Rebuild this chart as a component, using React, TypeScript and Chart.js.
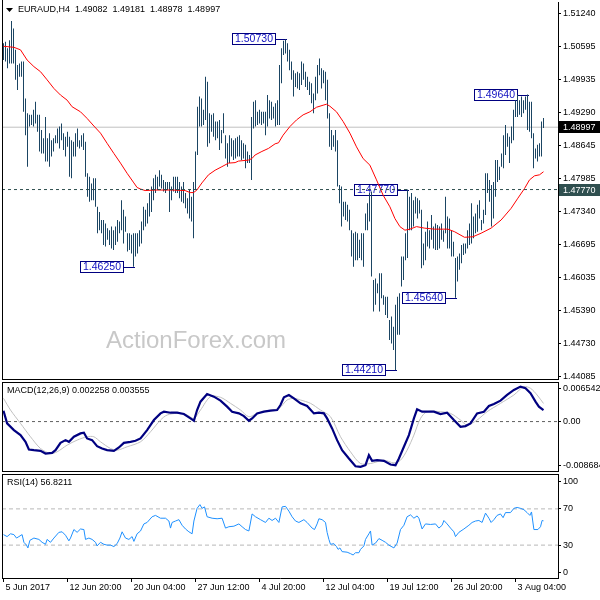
import React, { useEffect, useRef } from "react";
import { Chart, registerables } from "chart.js";
Chart.register(...registerables);

// ---------------- data ----------------
const symbolTitle = "EURAUD,H4";
const lastOHLC = [1.49082, 1.49181, 1.48978, 1.48997];
const watermark = "ActionForex.com";

const highs = [
  1.5065, 1.5068, 1.5055, 1.5071, 1.5109, 1.5094, 1.5052, 1.5022, 1.5025, 1.5029,
  1.5029, 1.4956, 1.4927, 1.4924, 1.4924, 1.4934, 1.495, 1.4924, 1.4924, 1.4894,
  1.4878, 1.492, 1.4878, 1.4888, 1.4874, 1.4878, 1.4884, 1.4897, 1.4901, 1.4907,
  1.4888, 1.4881, 1.4891, 1.4881, 1.4874, 1.4871, 1.4888, 1.4897, 1.4874, 1.4884,
  1.4888, 1.4871, 1.4809, 1.4802, 1.4789, 1.4799, 1.4799, 1.4743, 1.4733, 1.4717,
  1.4717, 1.471, 1.4701, 1.4697, 1.4704, 1.4697, 1.4704, 1.4717, 1.4714, 1.4756,
  1.4737, 1.4724, 1.4691, 1.4691, 1.4688, 1.4691, 1.4691, 1.4691, 1.4697, 1.4714,
  1.4743, 1.4737, 1.475, 1.477, 1.4783, 1.4799, 1.4806, 1.4802, 1.4815, 1.4806,
  1.4796, 1.4792, 1.4792, 1.4792, 1.4783, 1.4802, 1.4802, 1.4802, 1.4792, 1.4783,
  1.4792, 1.477, 1.476, 1.4776, 1.4763, 1.4792, 1.4852, 1.494, 1.496, 1.4956,
  1.4934, 1.4999, 1.4989, 1.4927, 1.4924, 1.4927, 1.4911, 1.4911, 1.4914, 1.4894,
  1.4927, 1.4884, 1.4868, 1.4884, 1.4878, 1.4874, 1.4878, 1.4881, 1.4884, 1.4874,
  1.4868, 1.4865, 1.4852, 1.4845, 1.492, 1.495, 1.4953, 1.493, 1.4934, 1.493,
  1.493, 1.493, 1.4963, 1.4953, 1.495, 1.494, 1.4947, 1.4953, 1.5022, 1.5055,
  1.507, 1.5073, 1.5065, 1.5052, 1.5029, 1.5012, 1.5006, 1.5009, 1.5006, 1.5029,
  1.5025, 1.5009, 1.4999, 1.4989, 1.4986, 1.4966, 1.4999, 1.5022, 1.5035, 1.5016,
  1.5012, 1.5009, 1.4993, 1.4927, 1.4894, 1.4884, 1.4894, 1.4874, 1.4786, 1.4783,
  1.4753, 1.4753, 1.4747, 1.4737, 1.4697, 1.4691, 1.4694, 1.4691, 1.4678, 1.4691,
  1.4691, 1.473, 1.475, 1.477, 1.4773, 1.4599, 1.4602, 1.4592, 1.4612, 1.4612,
  1.4569, 1.4566, 1.4566, 1.452, 1.4527, 1.4507, 1.455, 1.4566, 1.4573, 1.4645,
  1.4645, 1.4691, 1.4777, 1.4763, 1.477, 1.4756, 1.4763, 1.476, 1.4756, 1.4737,
  1.4671, 1.4694, 1.4714, 1.4697, 1.4727, 1.4704, 1.471, 1.4707, 1.4704, 1.471,
  1.4697, 1.4763, 1.4724, 1.472, 1.4697, 1.4674, 1.4642, 1.4645, 1.4651, 1.4668,
  1.4671, 1.4671, 1.4697, 1.471, 1.475, 1.4724, 1.473, 1.4747, 1.4756, 1.4717,
  1.4737, 1.4809, 1.4809, 1.4796, 1.4786, 1.4792, 1.4835, 1.4835, 1.4822, 1.4848,
  1.4884, 1.4904, 1.4888, 1.4881, 1.4901, 1.4934, 1.4953, 1.4963, 1.4953, 1.496,
  1.4953, 1.496, 1.4964, 1.495, 1.495, 1.4888, 1.4858, 1.4865, 1.4868, 1.4911, 1.4918,
];
const lows = [
  1.5032, 1.5029, 1.5016, 1.5025, 1.5025, 1.5025, 1.4993, 1.4973, 1.4999, 1.4999,
  1.493, 1.4884, 1.4822, 1.4901, 1.4904, 1.4901, 1.4907, 1.4891, 1.4852, 1.4848,
  1.4848, 1.4832, 1.4832, 1.4822, 1.4842, 1.4852, 1.4868, 1.4868, 1.4858, 1.4874,
  1.4855, 1.4842, 1.4861, 1.4802, 1.4799, 1.4842, 1.4842, 1.4861, 1.4858, 1.4861,
  1.4855, 1.4802, 1.4763, 1.4753, 1.4756, 1.4756, 1.4743, 1.4691, 1.4697, 1.4691,
  1.4668, 1.4665, 1.4678, 1.4668, 1.4661, 1.4658, 1.4668, 1.4674, 1.4691, 1.4697,
  1.4671, 1.4694, 1.4655, 1.4658, 1.4651, 1.4625, 1.4645, 1.4651, 1.4665, 1.4671,
  1.4697, 1.4704, 1.471, 1.4724, 1.4733, 1.4756, 1.477, 1.4776, 1.4783, 1.4779,
  1.4773, 1.477, 1.4776, 1.4733, 1.4756, 1.4773, 1.477, 1.477, 1.476, 1.4753,
  1.475, 1.474, 1.473, 1.472, 1.4714, 1.4681, 1.4776, 1.4845, 1.4901, 1.4901,
  1.4904, 1.4914, 1.4861, 1.4868, 1.4891, 1.4881, 1.4874, 1.4878, 1.4855, 1.4868,
  1.4888, 1.4838, 1.4822, 1.4829, 1.4842, 1.4835, 1.4838, 1.4842, 1.4842, 1.4835,
  1.4838, 1.4819, 1.4829, 1.4829, 1.4796, 1.4897, 1.4901, 1.4904, 1.4907, 1.4904,
  1.4907, 1.4884, 1.4901, 1.4917, 1.4914, 1.4917, 1.4901, 1.4904, 1.4904, 1.4986,
  1.5042, 1.5045, 1.5029, 1.5012, 1.4993, 1.496, 1.4979, 1.4976, 1.4973, 1.4983,
  1.4993, 1.4979, 1.4973, 1.4963, 1.4947, 1.4927, 1.4953, 1.4966, 1.5002, 1.4976,
  1.4986, 1.4953, 1.4917, 1.4861, 1.4855, 1.4861, 1.4852, 1.4783, 1.475, 1.4704,
  1.4724, 1.4717, 1.4714, 1.4697, 1.4645, 1.4625, 1.4638, 1.4638, 1.4642, 1.4638,
  1.4625, 1.4697, 1.4697, 1.4714, 1.4606, 1.4537, 1.455, 1.4573, 1.4537, 1.4563,
  1.455, 1.453, 1.4524, 1.4481, 1.4474, 1.4461, 1.4421, 1.4491, 1.4491, 1.4586,
  1.4599, 1.4638, 1.4642, 1.4697, 1.4697, 1.4704, 1.473, 1.472, 1.473, 1.4622,
  1.4628, 1.4638, 1.4665, 1.4661, 1.4678, 1.4661, 1.4658, 1.4658, 1.4661, 1.4678,
  1.4674, 1.4691, 1.4661, 1.4661, 1.4645, 1.4645, 1.4564, 1.4596, 1.4619, 1.4632,
  1.4648, 1.4651, 1.4661, 1.4668, 1.4671, 1.4681, 1.4691, 1.4694, 1.472, 1.4697,
  1.471, 1.4727, 1.477, 1.4753, 1.4704, 1.472, 1.4763, 1.4792, 1.4796, 1.4822,
  1.4819, 1.4845, 1.4861, 1.4829, 1.4868, 1.4874, 1.492, 1.492, 1.4924, 1.492,
  1.4927, 1.4934, 1.4894, 1.4891, 1.4878, 1.4819, 1.4838, 1.4832, 1.4842, 1.4842, 1.4898,
];

const maIdx = [
  0, 5.2, 8.5, 11.8, 15.2, 18.5, 21.8, 25.2, 28.5, 31.8,
  34.3, 38.5, 41.8, 45.2, 48.5, 51.8, 55.2, 58.5, 61.8, 65.2,
  66.8, 68.5, 70.8, 75.8, 84.2, 90.8, 93.3, 95, 96.7, 99.2,
  102.5, 105.8, 109.2, 112.5, 115.8, 117.5, 122.5, 124.2, 125.8, 129.2,
  132.5, 135.8, 137.5, 139.8, 143.2, 146.5, 149.8, 153.2, 156.5, 159.8,
  161.5, 163.2, 166.5, 169.8, 173.2, 176.5, 179.8, 183.2, 186.5, 189.8,
  193.2, 195.7, 198.2, 200.7, 203.2, 206.5, 210.5, 215.5, 222.2, 225.5,
  230.5, 234.7, 238.8, 243.8, 248.8, 253.8, 257.2, 260.5, 263, 265.5,
  268, 270,
];
const maVal = [
  1.5059, 1.5057, 1.5052, 1.5032, 1.5019, 1.5009, 1.4993, 1.4976, 1.4963, 1.4953,
  1.494, 1.493, 1.4917, 1.4902, 1.4888, 1.4868, 1.4848, 1.4829, 1.4809, 1.479,
  1.4781, 1.4778, 1.4775, 1.4776, 1.4776, 1.4775, 1.4771, 1.4771, 1.4776, 1.479,
  1.4806, 1.4815, 1.4822, 1.4829, 1.483, 1.4833, 1.4835, 1.4838, 1.4845, 1.4852,
  1.4858, 1.4867, 1.4869, 1.4884, 1.4901, 1.4914, 1.4924, 1.493, 1.4939, 1.4943,
  1.4945, 1.4941, 1.493, 1.4911, 1.4888, 1.4861, 1.4838, 1.4825, 1.4796, 1.4766,
  1.4743, 1.472, 1.4704, 1.4697, 1.4699, 1.4704, 1.4701, 1.4699, 1.4699, 1.4694,
  1.4683, 1.4684, 1.4691, 1.4701, 1.4717, 1.474, 1.476, 1.4779, 1.4796, 1.4804,
  1.4806, 1.4812,
];

const priceTicks = [1.5124, 1.50595, 1.49935, 1.4929, 1.48645, 1.47985, 1.4734, 1.46695, 1.46035, 1.4539, 1.4473, 1.44085];
const priceMin = 1.4404;
const priceMax = 1.51462;
const currentPrice = 1.48997;
const levelPrice = 1.4777;

const noteIdx = [141, 65, 202, 196, 226, 262];
const notePrice = [1.5073, 1.4625, 1.4777, 1.4421, 1.4564, 1.4964];

const macdTitle = "MACD(12,26,9) 0.002258 0.003555";
const macdIdx = [
  0, 1.8, 5.2, 8.5, 11, 12.7, 15.2, 18.5, 21, 24.3,
  26, 28.5, 31, 32.7, 35.2, 38.5, 40.2, 41.8, 44.3, 46.8,
  49.3, 51.8, 55.2, 57.7, 60.2, 63.5, 66, 68.5, 71.8, 75.2,
  78.5, 80.2, 83.5, 86.8, 90.2, 93.5, 95.2, 96.8, 98.5, 101.8,
  105.2, 108.5, 111.8, 114.3, 117.7, 120.2, 122.7, 124.3, 126.8, 130.2,
  133.5, 136.8, 138.5, 140.2, 142.7, 145.2, 148.5, 151.8, 155.2, 157.7,
  160.2, 161.8, 164.3, 166.8, 169.3, 172.7, 176, 178.5, 181, 182.7,
  184.3, 186.8, 190.2, 193.5, 196, 197.7, 200.2, 202.7, 205.2, 206.8,
  209.3, 211.8, 215.2, 218.5, 221.8, 225.2, 228.5, 231, 233.5, 236.8,
  240.2, 242.7, 245.2, 248.5, 251.8, 255.2, 258.5, 261, 263.5, 266,
  267.7, 270,
];
const macdVal = [
  0.00214, -0.00036, -0.00168, -0.00266, -0.00398, -0.00549, -0.00562, -0.00575, -0.00628, -0.00615,
  -0.00562, -0.00418, -0.00365, -0.00398, -0.00299, -0.00233, -0.0022, -0.00332, -0.00365, -0.00483,
  -0.00529, -0.00562, -0.00575, -0.0051, -0.00418, -0.00398, -0.00378, -0.00332, -0.00168, 0.0003,
  0.00161, 0.00194, 0.00174, 0.00174, 0.00148, 0.00062, 0.00016, 0.00227, 0.00391, 0.00542,
  0.0049, 0.00411, 0.00293, 0.00194, 0.00161, 0.00108, 0.00016, 0.00062, 0.00161, 0.00194,
  0.00214, 0.00227, 0.00325, 0.00477, 0.00523, 0.00457, 0.00358, 0.00306, 0.00161, 0.00174,
  0.00161, 0.00062, -0.00135, -0.00365, -0.00562, -0.00727, -0.00878, -0.00891, -0.00858, -0.00661,
  -0.00773, -0.0076, -0.00773, -0.00845, -0.00858, -0.00727, -0.00496, -0.00266, 0.00062, 0.0024,
  0.00194, 0.00194, 0.00194, 0.00148, 0.00174, 0.0003, -0.00102, -0.00089, -0.00036, 0.00161,
  0.00194, 0.00306, 0.00345, 0.00411, 0.00523, 0.00621, 0.00687, 0.00654, 0.00556, 0.00391,
  0.00293, 0.00226,
];
const signalIdx = [
  0, 3.5, 8.5, 13.5, 18.5, 23.5, 26.8, 31.8, 36.8, 41.8,
  45.2, 48.5, 53.5, 56.8, 61.8, 68.5, 73.5, 78.5, 81.8, 86.8,
  91.8, 95.2, 98.5, 103.5, 108.5, 113.5, 118.5, 122.7, 126.8, 131.8,
  137.7, 141.8, 145.2, 148.5, 153.5, 158.5, 163.5, 168.5, 173.5, 178.5,
  183.5, 190.2, 195.2, 198.5, 201.8, 205.2, 208.5, 211.8, 218.5, 223.5,
  228.5, 231.8, 236.8, 241.8, 248.5, 255.2, 260.2, 263.5, 266.8, 270,
];
const signalVal = [
  0.00457, 0.00227, -0.00036, -0.00299, -0.00529, -0.00628, -0.00595, -0.00464, -0.00365, -0.00299,
  -0.00299, -0.00398, -0.00529, -0.00562, -0.00496, -0.00398, -0.00201, 0.0003, 0.00128, 0.00161,
  0.00128, 0.00062, 0.00227, 0.0049, 0.00477, 0.00358, 0.00227, 0.00095, 0.00161, 0.00214,
  0.0026, 0.00424, 0.00457, 0.00424, 0.00358, 0.00227, 0.00095, -0.00299, -0.00595, -0.00825,
  -0.00825, -0.0076, -0.00812, -0.0076, -0.00562, -0.00266, 0.00062, 0.00194, 0.00194, 0.00161,
  0.0003, -0.00069, 0.0003, 0.00194, 0.00358, 0.00523, 0.00687, 0.00654, 0.00523, 0.00356,
];
const macdTicks = [0.006542, 0, -0.008684];
const macdTickLabels = ["0.006542", "0.00", "-0.008684"];
const macdMin = -0.00972;
const macdMax = 0.00778;

const rsiTitle = "RSI(14) 56.8211";
const rsiIdx = [
  0, 1.8, 3.5, 5.2, 6.5, 7.7, 9.3, 10.2, 11.5, 12.2,
  13.2, 15.2, 17.7, 19.3, 21, 21.8, 23.5, 25.2, 27.7, 29.3,
  31, 32.7, 33.5, 35.2, 36.8, 38.5, 40.2, 41, 42.7, 44.3,
  46, 46.8, 48.5, 50.2, 51.8, 53.5, 55.2, 56.8, 58.2, 59.3,
  61, 62.7, 64.3, 65.2, 66.8, 68.5, 70.2, 71.8, 74.3, 76,
  78.5, 81, 82.7, 83.5, 84.3, 86, 87.7, 89.3, 91, 92.7,
  94.3, 95.2, 96.8, 98.2, 99.3, 100.5, 101.8, 104.3, 106.8, 109.3,
  111, 112.7, 115.2, 117.7, 119.3, 121, 122.7, 124.3, 126, 128.5,
  131, 132.7, 134.3, 136, 137.7, 139.3, 141, 142.7, 144.3, 146,
  147.7, 150.2, 151.8, 154.3, 155.5, 156.8, 157.7, 159.3, 161, 161.8,
  162.7, 163.5, 165.2, 166.5, 167.3, 168.2, 169.3, 171.8, 173.5, 174.8,
  176, 177.7, 178.5, 180.2, 181, 182.7, 183.5, 184.3, 186, 187.7,
  189.3, 191, 192.7, 195.2, 196.8, 198.5, 200.2, 201.8, 203.5, 205.2,
  206.8, 207.7, 209.3, 211, 213.5, 216, 217.7, 219.3, 220.2, 221.8,
  223.5, 225.2, 226, 227.7, 230.2, 232.7, 234.3, 236, 237.7, 239.3,
  241, 242.7, 243.8, 245.2, 246.8, 248.5, 249.8, 251, 253.5, 255.2,
  256.8, 258.5, 260.2, 261.8, 263.2, 264, 265.2, 267.2, 268.5, 269.3,
  270,
];
const rsiVal = [
  41.6, 39.4, 42.5, 41.6, 37.8, 39.4, 41.6, 33.1, 30.0, 26.9,
  35.3, 37.8, 36.3, 33.1, 30.9, 36.3, 33.1, 37.8, 44.1, 44.7,
  40.9, 34.7, 37.8, 47.2, 44.1, 47.8, 47.2, 36.3, 37.8, 36.3,
  33.1, 29.1, 33.1, 30.9, 30.0, 30.0, 28.4, 31.6, 37.8, 44.7,
  37.8, 36.3, 39.4, 34.1, 42.5, 45.6, 53.4, 55.0, 61.3, 62.8,
  59.7, 59.7, 56.6, 48.8, 55.0, 56.6, 58.1, 51.9, 47.8, 44.7,
  42.5, 56.6, 70.6, 74.7, 70.6, 72.2, 61.3, 59.7, 59.1, 59.7,
  48.8, 50.3, 50.9, 53.4, 50.3, 47.2, 45.6, 64.4, 61.3, 58.1,
  55.0, 59.7, 57.2, 59.7, 55.0, 72.2, 72.8, 67.5, 61.3, 56.6,
  55.0, 58.1, 55.0, 48.8, 47.2, 53.4, 59.1, 58.1, 55.0, 44.1,
  36.3, 30.9, 31.6, 28.4, 25.3, 26.9, 22.8, 22.2, 20.6, 19.1,
  21.6, 21.6, 25.3, 29.1, 36.3, 42.5, 45.6, 30.0, 32.2, 37.2,
  35.3, 33.1, 30.0, 26.9, 32.2, 47.2, 51.9, 61.3, 63.4, 59.7,
  62.2, 59.7, 47.8, 53.4, 52.8, 53.4, 48.8, 51.9, 57.2, 53.4,
  48.8, 44.7, 39.4, 44.1, 47.8, 51.9, 55.0, 56.6, 57.2, 55.0,
  65.3, 59.7, 55.0, 58.1, 62.8, 64.4, 60.3, 65.9, 65.9, 70.6,
  71.6, 70.6, 69.1, 65.9, 62.8, 66.6, 47.2, 47.2, 50.3, 57.2,
  56.8,
];
const rsiTicks = [100, 70, 30, 0];
const rsiLevels = [70, 30];
const rsiMin = -6.3;
const rsiMax = 108.5;

const dateTickIdx = [0, 32, 64, 96, 128, 160, 192, 224, 256];
const dateTickLabels = ["5 Jun 2017", "12 Jun 20:00", "20 Jun 04:00", "27 Jun 12:00", "4 Jul 20:00", "12 Jul 04:00", "19 Jul 12:00", "26 Jul 20:00", "3 Aug 04:00"];

// ---------------- style / layout ----------------
const FONT = "'Liberation Sans', Arial, Helvetica, sans-serif";
const X_MIN = -0.75;
const X_MAX = 277.25;
const BAR_COLOR = "#1b4563";

const pts = (xs: number[], ys: number[]) => xs.map((x, k) => ({ x, y: ys[k] }));
const hline = (v: number) => [{ x: X_MIN, y: v }, { x: X_MAX, y: v }];

function xAxis(show: boolean): any {
  const ax: any = {
    type: "linear",
    min: X_MIN,
    max: X_MAX,
    offset: false,
    display: show,
    afterBuildTicks: (s: any) => {
      s.ticks = dateTickIdx.map((v) => ({ value: v }));
    },
    ticks: {
      autoSkip: false,
      maxRotation: 0,
      minRotation: 0,
      align: "start",
      labelOffset: 2,
      padding: 0,
      color: "#000",
      font: { family: FONT, size: 9 },
      callback: (v: number) => {
        const k = dateTickIdx.indexOf(v);
        return k >= 0 ? dateTickLabels[k] : "";
      },
    },
    grid: { display: true, drawOnChartArea: false, drawTicks: true, tickLength: 4, color: "#000" },
    border: { display: true, color: "#000" },
  };
  if (show) {
    ax.afterFit = (s: any) => {
      s.height = 22;
      s.paddingLeft = 0;
      s.paddingRight = 0;
    };
  }
  return ax;
}

function yAxis(min: number, max: number, ticks: number[], fmt: (v: number) => string): any {
  return {
    type: "linear",
    position: "right",
    min,
    max,
    afterBuildTicks: (s: any) => {
      s.ticks = ticks.map((v) => ({ value: v }));
    },
    ticks: {
      autoSkip: false,
      padding: 2,
      color: "#000",
      font: { family: FONT, size: 9 },
      callback: (v: number) => fmt(v),
    },
    grid: { display: true, drawOnChartArea: false, drawTicks: true, tickLength: 3, color: "#000" },
    border: { display: true, color: "#000" },
    afterFit: (s: any) => {
      s.width = 42;
      s.paddingTop = 0;
      s.paddingBottom = 0;
    },
  };
}

const baseOptions = (padding: any) => ({
  responsive: false,
  animation: false as const,
  devicePixelRatio: 1,
  events: [] as any[],
  layout: { padding },
  plugins: { legend: { display: false }, tooltip: { enabled: false } },
});

function framePlugin(drawTop: boolean, drawBottom: boolean, title: string | null) {
  return {
    id: "frame",
    afterDraw(chart: any) {
      const { ctx, chartArea: a } = chart;
      ctx.save();
      ctx.strokeStyle = "#000";
      ctx.lineWidth = 1;
      ctx.beginPath();
      ctx.moveTo(a.left + 0.5, drawTop ? a.top : 0);
      ctx.lineTo(a.left + 0.5, a.bottom + 1);
      if (drawTop) {
        ctx.moveTo(a.left, a.top + 0.5);
        ctx.lineTo(a.right, a.top + 0.5);
      }
      if (drawBottom) {
        ctx.moveTo(a.left, a.bottom + 0.5);
        ctx.lineTo(a.right, a.bottom + 0.5);
      }
      ctx.stroke();
      if (title) {
        ctx.fillStyle = "#000";
        ctx.font = `9px ${FONT}`;
        ctx.textAlign = "left";
        ctx.textBaseline = "middle";
        ctx.fillText(title, a.left + 5, a.top + 9);
      }
      ctx.restore();
    },
  };
}

function mainConfig(): any {
  const decor = {
    id: "mainDecor",
    beforeDatasetsDraw(chart: any) {
      const ctx = chart.ctx;
      const xs = chart.scales.x;
      const ys = chart.scales.y;
      ctx.save();
      ctx.fillStyle = "#c8c8c8";
      ctx.font = `24px ${FONT}`;
      ctx.textAlign = "left";
      ctx.textBaseline = "alphabetic";
      ctx.fillText(watermark, 106, 348);
      noteIdx.forEach((idx, k) => {
        const bx = Math.round(xs.getPixelForValue(idx));
        const py = Math.round(ys.getPixelForValue(notePrice[k]));
        const label = notePrice[k].toFixed(5);
        ctx.font = `10.5px ${FONT}`;
        const w = Math.ceil(ctx.measureText(label).width) + 6;
        const h = 12;
        const bRight = bx - 10;
        const bLeft = bRight - w;
        ctx.fillStyle = "#fff";
        ctx.fillRect(bLeft, py - 6, w, h);
        ctx.strokeStyle = "#000080";
        ctx.lineWidth = 1;
        ctx.strokeRect(bLeft + 0.5, py - 6 + 0.5, w - 1, h - 1);
        ctx.beginPath();
        ctx.moveTo(bRight, py + 0.5);
        ctx.lineTo(bx + 1, py + 0.5);
        ctx.stroke();
        ctx.fillStyle = "#1010c0";
        ctx.textAlign = "center";
        ctx.textBaseline = "middle";
        ctx.fillText(label, bLeft + w / 2, py + 0.5);
      });
      ctx.restore();
    },
    afterDraw(chart: any) {
      const ctx = chart.ctx;
      const ys = chart.scales.y;
      ctx.save();
      // header
      ctx.fillStyle = "#000";
      ctx.beginPath();
      ctx.moveTo(6, 8);
      ctx.lineTo(13, 8);
      ctx.lineTo(9.5, 12);
      ctx.closePath();
      ctx.fill();
      ctx.font = `9px ${FONT}`;
      ctx.textAlign = "left";
      ctx.textBaseline = "middle";
      ctx.fillText(`${symbolTitle}  ${lastOHLC.map((v) => v.toFixed(5)).join("  ")}`, 18, 10);
      // axis tags
      const tag = (price: number, bg: string, fg: string) => {
        const y = Math.round(ys.getPixelForValue(price));
        ctx.fillStyle = bg;
        ctx.fillRect(559, y - 6, 41, 12);
        ctx.fillStyle = fg;
        ctx.font = `9px ${FONT}`;
        ctx.textAlign = "left";
        ctx.textBaseline = "middle";
        ctx.fillText(price.toFixed(5), 563, y + 0.5);
      };
      tag(currentPrice, "#000", "#fff");
      tag(levelPrice, "#2f4f4f", "#fff");
      ctx.restore();
    },
  };
  return {
    type: "line",
    data: {
      datasets: [
        {
          type: "line",
          data: hline(currentPrice),
          borderColor: "#c0c0c0",
          borderWidth: 1,
          pointRadius: 0,
          order: 3,
        },
        {
          type: "bar",
          data: highs.map((h, i) => ({ x: i, y: [lows[i], h] })),
          backgroundColor: BAR_COLOR,
          borderWidth: 0,
          barThickness: 1,
          inflateAmount: 0,
          order: 2,
        },
        {
          type: "line",
          data: pts(maIdx, maVal),
          borderColor: "#ff0000",
          borderWidth: 1,
          pointRadius: 0,
          tension: 0,
          order: 1,
        },
        {
          type: "line",
          data: hline(levelPrice),
          borderColor: "#2f4f4f",
          borderWidth: 1,
          borderDash: [3, 3],
          pointRadius: 0,
          order: 0,
        },
      ],
    },
    options: {
      ...baseOptions({ left: 2, top: 2, right: 0, bottom: 6 }),
      scales: {
        x: xAxis(false),
        y: yAxis(priceMin, priceMax, priceTicks, (v) => v.toFixed(5)),
      },
    },
    plugins: [decor, framePlugin(false, true, null)],
  };
}

function macdConfig(): any {
  return {
    type: "line",
    data: {
      datasets: [
        {
          data: hline(0),
          borderColor: "#606060",
          borderWidth: 1,
          borderDash: [3, 3],
          pointRadius: 0,
          order: 3,
        },
        {
          data: pts(signalIdx, signalVal),
          borderColor: "#c0c0c0",
          borderWidth: 1,
          pointRadius: 0,
          tension: 0.3,
          order: 2,
        },
        {
          data: pts(macdIdx, macdVal),
          borderColor: "#000080",
          borderWidth: 2.2,
          pointRadius: 0,
          tension: 0,
          order: 1,
        },
      ],
    },
    options: {
      ...baseOptions({ left: 2, top: 5, right: 0, bottom: 6 }),
      scales: {
        x: xAxis(false),
        y: yAxis(macdMin, macdMax, macdTicks, (v) => {
          const k = macdTicks.indexOf(v);
          return k >= 0 ? macdTickLabels[k] : "";
        }),
      },
    },
    plugins: [framePlugin(true, true, macdTitle)],
  };
}

function rsiConfig(): any {
  return {
    type: "line",
    data: {
      datasets: [
        ...rsiLevels.map((lv) => ({
          data: hline(lv),
          borderColor: "#b8b8b8",
          borderWidth: 1,
          borderDash: [4, 3],
          pointRadius: 0,
          order: 3,
        })),
        {
          data: pts(rsiIdx, rsiVal),
          borderColor: "#1e90ff",
          borderWidth: 1,
          pointRadius: 0,
          tension: 0,
          order: 1,
        },
      ],
    },
    options: {
      ...baseOptions({ left: 2, top: 5, right: 0, bottom: 0 }),
      scales: {
        x: xAxis(true),
        y: yAxis(rsiMin, rsiMax, rsiTicks, (v) => String(v)),
      },
    },
    plugins: [framePlugin(true, false, rsiTitle)],
  };
}

export default function App() {
  const r1 = useRef<HTMLCanvasElement>(null);
  const r2 = useRef<HTMLCanvasElement>(null);
  const r3 = useRef<HTMLCanvasElement>(null);
  useEffect(() => {
    const charts = [
      new Chart(r1.current as HTMLCanvasElement, mainConfig()),
      new Chart(r2.current as HTMLCanvasElement, macdConfig()),
      new Chart(r3.current as HTMLCanvasElement, rsiConfig()),
    ];
    return () => charts.forEach((c) => c.destroy());
  }, []);
  const cs = (top: number, h: number): React.CSSProperties => ({
    position: "absolute",
    left: 0,
    top,
    width: 600,
    height: h,
    display: "block",
  });
  return (
    <div style={{ position: "fixed", left: 0, top: 0, width: 600, height: 600, background: "#fff", overflow: "hidden" }}>
      <canvas ref={r1} width={600} height={385} style={cs(0, 385)} />
      <canvas ref={r2} width={600} height={100} style={cs(377, 100)} />
      <canvas ref={r3} width={600} height={131} style={cs(469, 131)} />
    </div>
  );
}
